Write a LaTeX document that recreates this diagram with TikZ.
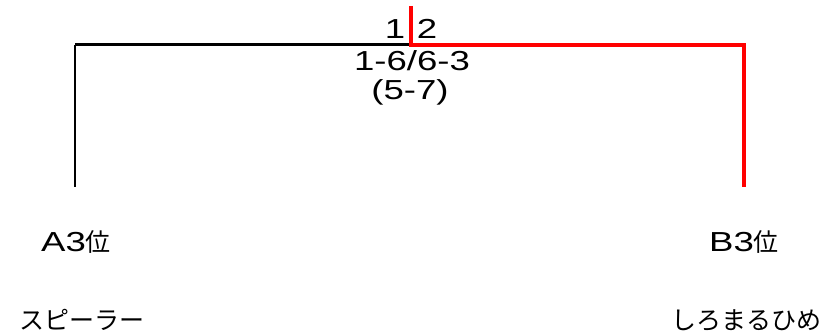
\documentclass[tikz,border=0pt]{standalone}
\usepackage{fontspec}
\setmainfont{Liberation Sans}[FakeStretch=1.33]
\newfontfamily\jp{Noto Sans CJK JP}
\begin{document}
\begin{tikzpicture}[x=1pt,y=-1pt,
  lbl/.style={anchor=base,inner sep=0pt,font=\fontsize{27.5}{31}\selectfont},
  jpl/.style={lbl,font=\fontsize{25}{29}\selectfont\jp},
  loser/.style={draw=black,line width=3pt},
  winner/.style={draw=red,line width=4pt}]
\useasboundingbox (0,0) rectangle (830,336);
\coordinate (top) at (411,6);
\coordinate (mid) at (411,45);
\coordinate (lc) at (75,45);
\coordinate (lb) at (75,187);
\coordinate (rc) at (744,45);
\coordinate (rb) at (744,187);
\draw[loser] (mid) -- (lc);
\draw[black,line width=2.2pt] (lc) -- (lb);
\draw[winner] (top) -- (mid) -- (rc) -- (rb);
\node[lbl] (s1) at (395,39) {1};
\node[lbl] (s2) at (427,39) {2};
\node[lbl] (sets) at (412,71) {1-6/6-3};
\node[lbl] (tb) at (410,100) {(5-7)};
\node[lbl] (a) at (76,252) {A3{\fontsize{25}{29}\selectfont\jp 位}};
\node[lbl] (b) at (744,252) {B3{\fontsize{25}{29}\selectfont\jp 位}};
\node[jpl] (an) at (82,330) {スピーラー};
\node[jpl] (bn) at (746,330) {しろまるひめ};
\end{tikzpicture}
\end{document}
